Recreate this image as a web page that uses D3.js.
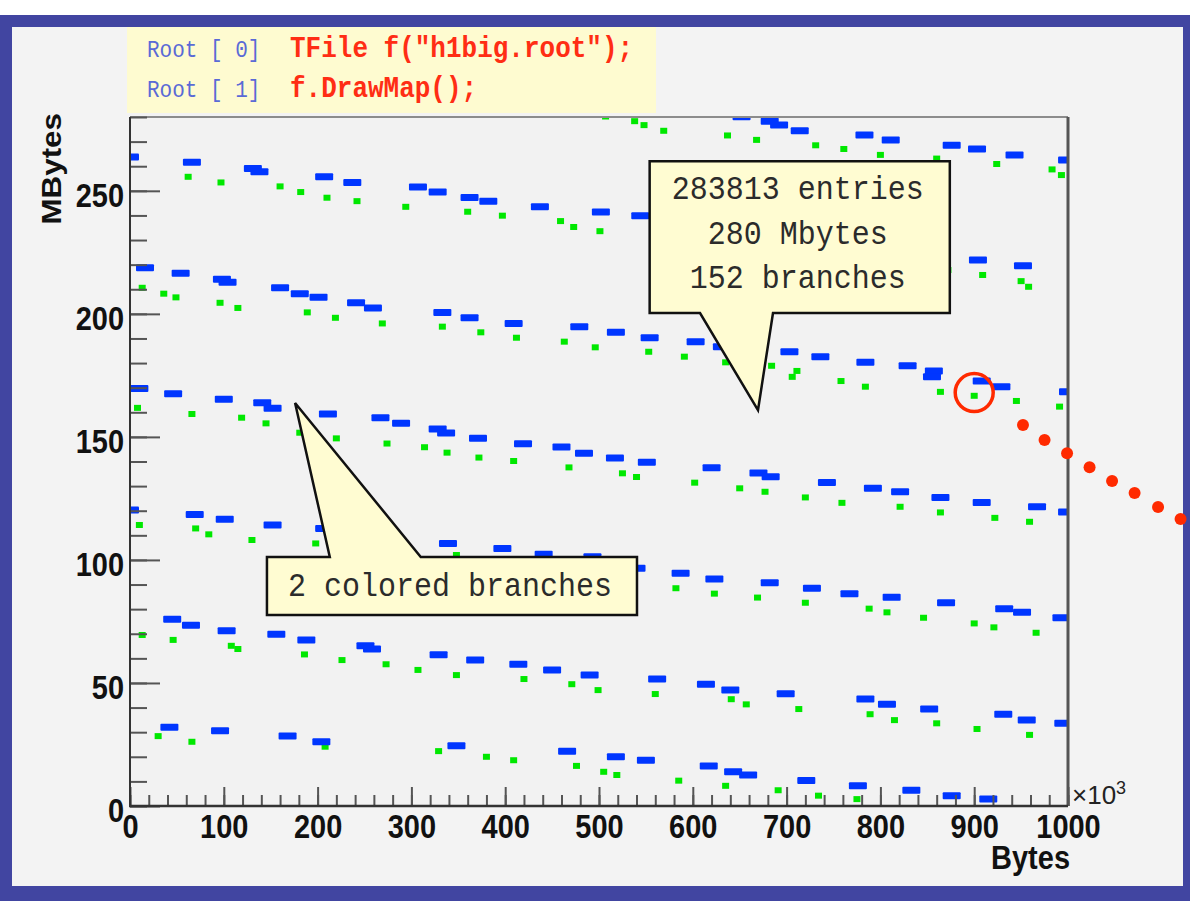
<!DOCTYPE html>
<html><head><meta charset="utf-8">
<script src="https://cdn.jsdelivr.net/npm/d3@7"></script>
<style>
html,body{margin:0;padding:0;background:#fff;}
svg{display:block;}
</style></head><body>
<svg id="c" width="1190" height="901"></svg>
<script>
// ---------- data ----------
const xTicks = [0,100,200,300,400,500,600,700,800,900,1000];
const yTicks = [0,50,100,150,200,250];
const xTitle = "Bytes";
const yTitle = "MBytes";
const codeLines = [
  {prompt:"Root [ 0]", cmd:"TFile f(\"h1big.root\");"},
  {prompt:"Root [ 1]", cmd:"f.DrawMap();"}
];
const infoText = ["283813 entries","280 Mbytes","152 branches"];
const branchText = ["2 colored branches"];

// baskets of branch 1 (blue): [offset in kBytes, MBytes]
const blueBaskets = [
[652,280.1],[682,278.3],[692,276.7],[714,274.4],[783,272.7],[811,270.7],[876,268.5],[903,267.0],[943,264.6],[999,262.5],
[0,263.7],[66,261.6],[131,259.1],[138,257.7],[207,255.7],[237,253.4],[307,251.6],[328,249.5],[362,247.3],[382,245.8],[437,243.5],[502,241.4],[544,239.9],[904,221.9],[952,219.5],
[16,218.7],[54,216.5],[98,214.1],[104,212.8],[160,210.6],[181,208.2],[201,206.7],[241,204.5],[259,202.4],[333,200.6],[362,198.4],[409,196.1],[479,194.8],[518,192.5],[554,190.3],[603,188.7],[631,186.6],[703,184.6],[736,182.6],[784,180.3],[829,178.9],[857,176.8],[855,174.4],[908,172.7],[929,170.4],[1000,168.3],
[10,169.7],[46,167.5],[100,165.3],[141,163.9],[152,161.6],[211,159.3],[267,157.8],[289,155.5],[328,153.2],[337,151.6],[371,149.4],[419,147.2],[460,145.9],[484,143.4],[517,141.4],[551,139.7],[620,137.5],[670,135.3],[683,133.8],[743,131.5],[792,129.1],[821,127.7],[864,125.4],[908,123.3],[967,121.6],[999,119.5],
[0,120.3],[69,118.5],[101,116.5],[152,114.2],[207,112.8],[339,106.7],[397,104.6],[441,102.3],[493,101.3],[540,96.6],[587,94.6],[623,92.2],[682,90.7],[727,88.5],[767,86.3],[812,84.8],[870,82.6],[932,80.2],[951,78.7],[993,76.5],
[45,75.9],[65,73.5],[103,71.2],[156,69.8],[188,67.5],[251,65.1],[258,63.8],[329,61.5],[368,59.3],[414,57.6],[450,55.3],[490,53.2],[562,51.6],[614,49.5],[640,47.1],[699,45.6],[784,43.5],[807,41.3],[852,39.4],[931,37.3],[956,34.9],[995,33.6],
[42,32.0],[96,30.6],[168,28.4],[204,26.1],[348,24.5],[466,22.3],[518,20.0],[550,18.6],[617,16.3],[643,13.9],[659,12.6],[721,10.4],[776,8.2],[833,6.4],[876,4.2],[915,2.8]
];

// baskets of branch 2 (green)
const greenBaskets = [
[507,280.2],[538,278.3],[548,276.7],[569,274.4],[637,272.5],[668,270.7],[731,268.5],[761,267.0],[800,264.6],[860,263.1],[924,260.9],[983,258.7],[993,256.4],
[62,255.7],[97,253.4],[160,251.8],[182,249.5],[210,247.2],[242,245.8],[294,243.5],[360,241.5],[397,239.9],[459,237.7],[473,235.3],[501,233.6],[872,217.8],[909,215.8],[950,213.3],[958,211.0],
[13,210.6],[36,208.2],[49,206.7],[96,204.5],[115,202.4],[189,200.6],[219,198.4],[269,196.1],[333,194.8],[374,192.5],[412,190.3],[463,188.7],[496,186.4],[553,184.6],[591,182.6],[635,180.3],[684,178.9],[711,176.8],[706,174.4],[758,172.7],[784,170.4],[864,168.3],[900,166.7],[945,164.6],[991,162.3],
[8,161.8],[66,159.3],[119,157.8],[145,155.5],[181,151.7],[220,149.4],[274,147.3],[314,145.8],[338,143.6],[372,141.6],[409,140.2],[468,137.6],[525,135.2],[540,133.7],[602,131.4],[650,129.1],[677,127.7],[720,125.4],[759,123.2],[821,121.6],[864,119.3],[922,117.1],[959,115.5],
[10,114.2],[70,112.8],[84,110.4],[130,108.1],[198,106.7],[348,102.0],[582,88.5],[623,86.3],[669,84.7],[720,82.6],[788,80.2],[807,78.7],[846,76.5],[900,74.2],[921,72.6],[966,70.4],
[13,69.5],[46,67.5],[108,65.1],[115,63.8],[186,61.6],[226,59.3],[273,57.6],[307,55.3],[348,53.2],[420,51.6],[471,49.5],[499,47.1],[560,45.5],[641,43.4],[657,41.3],[713,39.4],[789,37.3],[815,34.9],[860,33.6],[903,31.3],[959,28.9],
[30,28.4],[66,26.1],[208,24.1],[329,22.3],[380,20.0],[409,18.6],[476,16.3],[505,13.9],[519,12.6],[585,10.3],[635,8.2],[691,6.4],[734,4.2],[775,2.8]
];

// red leader dots and highlighted basket
const redDotsX = [952,975,999,1023,1047,1071,1096,1120];
const redDotsY = [154.8,148.7,143.4,137.7,132.1,127.2,121.5,116.6];
const highlight = [900,168];

// callout geometry in data units
const infoBox   = {x0:554, x1:874, y0:262, y1:200.3, baseL:607.7, baseR:685.5, tipX:669.5, tipY:160.9};
const branchBox = {x0:146, x1:540.5, y0:101.2, y1:77.6, baseL:213, baseR:310, tipX:176, tipY:163.8};

// ---------- drawing ----------
const svg = d3.select("#c");
const SANS = "'Liberation Sans', Arial, Helvetica, sans-serif";
const MONO = "'Liberation Mono', 'Courier New', monospace";

// canvas frame
svg.append("rect").attr("x",0).attr("y",15).attr("width",1190).attr("height",886).attr("fill","#4145a1");
svg.append("rect").attr("x",12).attr("y",27).attr("width",1171).attr("height",859).attr("fill","#f3f3f3");

const x = d3.scaleLinear().domain([0,1000]).range([130,1068]);
const y = d3.scaleLinear().domain([0,280]).range([806,117]);

svg.append("rect").attr("x",x(0)).attr("y",y(280)).attr("width",x(1000)-x(0)).attr("height",y(0)-y(280)).attr("fill","#f2f2f2");

svg.append("clipPath").attr("id","pc").append("rect")
  .attr("x",x(0)).attr("y",y(280)).attr("width",x(1000)-x(0)).attr("height",y(0)-y(280));

const marks = svg.append("g").attr("clip-path","url(#pc)");
marks.selectAll("rect.g").data(greenBaskets).join("rect").attr("class","g")
  .attr("x",d=>x(d[0])-3.5).attr("y",d=>y(d[1])-3).attr("width",7).attr("height",6).attr("fill","#00e800");
marks.selectAll("rect.b").data(blueBaskets).join("rect").attr("class","b")
  .attr("x",d=>x(d[0])-9).attr("y",d=>y(d[1])-3.5).attr("width",18).attr("height",7).attr("rx",1).attr("fill","#0036ff");

// frame lines
svg.append("line").attr("x1",x(0)).attr("x2",x(1000)).attr("y1",y(280)).attr("y2",y(280)).attr("stroke","#8c8c8c").attr("stroke-width",2);
svg.append("line").attr("x1",x(1000)).attr("x2",x(1000)).attr("y1",y(280)).attr("y2",y(0)).attr("stroke","#555").attr("stroke-width",3);

// axes
function styleTicks(g){ g.select(".domain").remove(); g.selectAll(".tick line").attr("stroke","#555").attr("stroke-width",2); }

const yMinor = svg.append("g").attr("transform",`translate(${x(0)},0)`)
  .call(d3.axisLeft(y).tickValues(d3.range(0,281,10)).tickSize(-17).tickFormat(""));
styleTicks(yMinor);
const yMajor = svg.append("g").attr("transform",`translate(${x(0)},0)`)
  .call(d3.axisLeft(y).tickValues(yTicks).tickSize(-30).tickPadding(6).tickFormat(d3.format("d")));
styleTicks(yMajor);
yMajor.selectAll(".tick text").attr("dy","0.48em").attr("transform","scale(1,1.12)")
  .style("font",`bold 29px ${SANS}`).attr("fill","#111");

const xMinor = svg.append("g").attr("transform",`translate(0,${y(0)})`)
  .call(d3.axisBottom(x).tickValues(d3.range(0,1001,20)).tickSize(-11).tickFormat(""));
styleTicks(xMinor);
const xMajor = svg.append("g").attr("transform",`translate(0,${y(0)})`)
  .call(d3.axisBottom(x).tickValues(xTicks).tickSize(-19).tickPadding(8).tickFormat(d3.format("d")));
styleTicks(xMajor);
xMajor.selectAll(".tick text").attr("transform","scale(1,1.12)")
  .style("font",`bold 29px ${SANS}`).attr("fill","#111");

svg.append("line").attr("x1",x(0)).attr("x2",x(0)).attr("y1",y(280)).attr("y2",y(0)+1).attr("stroke","#333").attr("stroke-width",2);
svg.append("line").attr("x1",x(0)-1).attr("x2",x(1000)).attr("y1",y(0)).attr("y2",y(0)).attr("stroke","#333").attr("stroke-width",2.5);

// axis titles
svg.append("text").attr("transform",`translate(${x(1000)+2},869) scale(1,1.12)`).attr("text-anchor","end")
  .style("font",`bold 29px ${SANS}`).attr("fill","#111").text(xTitle);
svg.append("text").attr("transform",`translate(61,${y(280)-4}) rotate(-90) scale(1.12,1)`).attr("text-anchor","end")
  .style("font",`bold 28px ${SANS}`).attr("fill","#111").text(yTitle);
const mult = svg.append("text").attr("transform",`translate(${x(1000)+4},804)`)
  .style("font",`26px ${SANS}`).attr("fill","#222");
mult.append("tspan").text("\u00d710");
mult.append("tspan").attr("dy",-10).style("font-size","18px").text("3");

// highlight circle and leader dots
svg.append("circle").attr("cx",x(highlight[0])).attr("cy",y(highlight[1])).attr("r",19)
  .attr("fill","none").attr("stroke","#ff2a00").attr("stroke-width",3.5);
svg.selectAll("circle.rd").data(redDotsX).join("circle").attr("class","rd")
  .attr("cx",d=>x(d)).attr("cy",(d,i)=>y(redDotsY[i])).attr("r",6).attr("fill","#ff2a00");

// callouts
const CALL_FILL = "#fffcd2";
function boxDown(b){ // pointer hanging below the box
  const p = [[x(b.x0),y(b.y0)],[x(b.x1),y(b.y0)],[x(b.x1),y(b.y1)],[x(b.baseR),y(b.y1)],[x(b.tipX),y(b.tipY)],[x(b.baseL),y(b.y1)],[x(b.x0),y(b.y1)]];
  return "M"+p.map(q=>q.join(",")).join("L")+"Z";
}
function boxUp(b){ // pointer rising above the box
  const p = [[x(b.x0),y(b.y0)],[x(b.baseL),y(b.y0)],[x(b.tipX),y(b.tipY)],[x(b.baseR),y(b.y0)],[x(b.x1),y(b.y0)],[x(b.x1),y(b.y1)],[x(b.x0),y(b.y1)]];
  return "M"+p.map(q=>q.join(",")).join("L")+"Z";
}
svg.append("path").attr("d",boxDown(infoBox)).attr("fill",CALL_FILL).attr("stroke","#111").attr("stroke-width",2.5).attr("stroke-linejoin","miter");
const infoCx = (x(infoBox.x0)+x(infoBox.x1))/2 - 2;
infoText.forEach((t,i)=>{
  svg.append("text").attr("transform",`translate(${infoCx},${199+i*44.5}) scale(1,1.12)`).attr("text-anchor","middle")
    .style("font",`30px ${MONO}`).attr("fill","#2b2b2b").text(t);
});
svg.append("path").attr("d",boxUp(branchBox)).attr("fill",CALL_FILL).attr("stroke","#111").attr("stroke-width",2.5);
const brCx = (x(branchBox.x0)+x(branchBox.x1))/2 - 2;
branchText.forEach((t,i)=>{
  svg.append("text").attr("transform",`translate(${brCx},596) scale(1,1.12)`).attr("text-anchor","middle")
    .style("font",`30px ${MONO}`).attr("fill","#2b2b2b").text(t);
});

// code box
svg.append("rect").attr("x",127).attr("y",27).attr("width",529).attr("height",86).attr("fill","#fefbd0");
codeLines.forEach((l,i)=>{
  const by = 57 + i*40;
  svg.append("text").attr("transform",`translate(147,${by}) scale(1,1.12)`)
    .style("font",`21px ${MONO}`).attr("fill","#5a6ad6").text(l.prompt);
  svg.append("text").attr("transform",`translate(290,${by}) scale(1,1.12)`)
    .style("font",`bold 26px ${MONO}`).attr("fill","#ff2d14").text(l.cmd);
});
</script>
</body></html>
